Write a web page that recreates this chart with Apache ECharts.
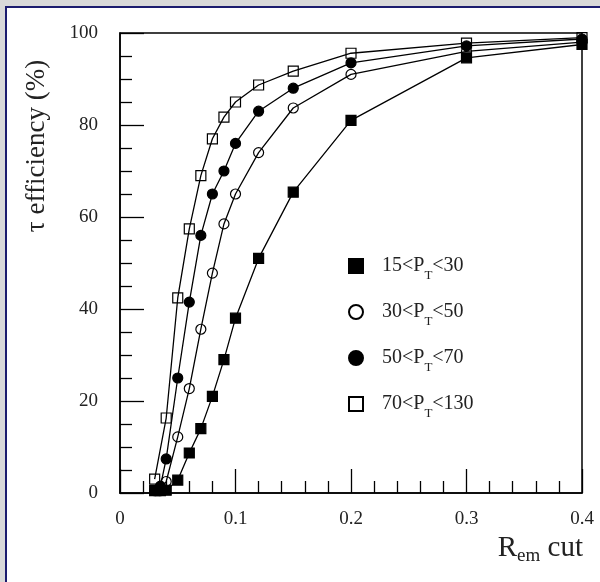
<!DOCTYPE html>
<html><head><meta charset="utf-8">
<script src="https://cdn.jsdelivr.net/npm/echarts@6/dist/echarts.min.js"></script>
<style>
html,body{margin:0;padding:0;width:600px;height:582px;overflow:hidden;background:#d9d9d9;}
#panel{position:absolute;left:5px;top:6px;right:0;bottom:0;background:#fff;border-left:2px solid #1c1c6e;border-top:2px solid #1c1c6e;}
#chart{position:absolute;left:0;top:0;width:600px;height:582px;}
</style></head><body><div id="panel"></div><div id="chart"></div>
<script>
// Data
const seriesNames = ['15<PT<30', '30<PT<50', '50<PT<70', '70<PT<130'];
const xA = [0.03, 0.035, 0.04, 0.05, 0.06, 0.07, 0.08, 0.09, 0.1, 0.12, 0.15, 0.2, 0.3, 0.4];
const yA = [0.5, 0.5, 0.6, 2.8, 8.7, 14, 21, 29, 38, 51, 65.4, 81, 94.6, 97.5];
const xB = [0.035, 0.04, 0.05, 0.06, 0.07, 0.08, 0.09, 0.1, 0.12, 0.15, 0.2, 0.3, 0.4];
const yB = [0.5, 2.5, 12.2, 22.7, 35.6, 47.8, 58.5, 65, 74, 83.7, 91, 96, 98];
const xC = [0.03, 0.035, 0.04, 0.05, 0.06, 0.07, 0.08, 0.09, 0.1, 0.12, 0.15, 0.2, 0.3, 0.4];
const yC = [0.5, 1.5, 7.4, 25, 41.5, 56, 65, 70, 76, 83, 88, 93.5, 97.2, 98.7];
const xD = [0.03, 0.04, 0.05, 0.06, 0.07, 0.08, 0.09, 0.1, 0.12, 0.15, 0.2, 0.3, 0.4];
const yD = [3, 16.3, 42.4, 57.4, 69, 77, 81.7, 85, 88.7, 91.7, 95.6, 97.8, 99];
const xTicks = [0, 0.1, 0.2, 0.3, 0.4];
const yTicks = [0, 20, 40, 60, 80, 100];

const FONT = 'Liberation Serif';
function pairs(xs, ys) { return xs.map((x, i) => [x, ys[i]]); }
const symbols = ['rect', 'circle', 'circle', 'rect'];
const filled = [true, false, true, false];
const xs = [xA, xB, xC, xD], ys = [yA, yB, yC, yD];

const series = seriesNames.map((name, i) => ({
  name: name,
  type: 'line',
  data: pairs(xs[i], ys[i]),
  symbol: symbols[i],
  symbolSize: 10,
  showAllSymbol: true,
  lineStyle: { color: '#000', width: 1.3 },
  itemStyle: { color: filled[i] ? '#000' : 'rgba(255,255,255,0)', borderColor: '#000', borderWidth: 1.2 },
  emphasis: { disabled: true },
  z: 2
}));

const chart = echarts.init(document.getElementById('chart'), null, { renderer: 'canvas' });
chart.setOption({
  backgroundColor: 'transparent',
  animation: false,
  grid: { left: 120, top: 33, right: 18, bottom: 89, show: true, borderColor: '#000', borderWidth: 1.5, backgroundColor: 'transparent' },
  xAxis: {
    type: 'value', min: xTicks[0], max: xTicks[xTicks.length - 1], interval: 0.1,
    axisLine: { show: true, lineStyle: { color: '#000', width: 1.5 } },
    axisTick: { show: true, inside: true, length: 24, lineStyle: { color: '#000', width: 1.3 } },
    minorTick: { show: true, splitNumber: 5, length: 12, lineStyle: { color: '#000', width: 1.3 } },
    splitLine: { show: false },
    axisLabel: { color: '#222', fontFamily: FONT, fontSize: 19, margin: 17,
      formatter: v => String(Math.round(v * 10) / 10) }
  },
  yAxis: {
    type: 'value', min: yTicks[0], max: yTicks[yTicks.length - 1], interval: 20,
    axisLine: { show: true, lineStyle: { color: '#000', width: 1.5 } },
    axisTick: { show: true, inside: true, length: 24, lineStyle: { color: '#000', width: 1.3 } },
    minorTick: { show: true, splitNumber: 4, length: 12, lineStyle: { color: '#000', width: 1.3 } },
    splitLine: { show: false },
    axisLabel: { color: '#222', fontFamily: FONT, fontSize: 19, margin: 22 }
  },
  legend: {
    orient: 'vertical', left: 343, top: 251,
    itemWidth: 14, itemHeight: 14, itemGap: 20,
    selectedMode: false,
    data: seriesNames.map((n, i) => ({ name: n, icon: symbols[i] })),
    formatter: n => '{n|' + n.replace('PT', 'P}{s|T}{n|') + '}',
    textStyle: {
      color: '#000', fontFamily: FONT, fontSize: 20, padding: [0, 0, 0, 14],
      rich: {
        n: { fontFamily: FONT, fontSize: 20, lineHeight: 32, color: '#222' },
        s: { fontFamily: FONT, fontSize: 13, lineHeight: 16, verticalAlign: 'bottom', color: '#222' }
      }
    }
  },
  graphic: [
    { type: 'text', x: 37, y: 146, rotation: Math.PI / 2, z: 10,
      style: { text: 'τ efficiency (%)', fontFamily: FONT, fontSize: 27, fill: '#222', align: 'center', verticalAlign: 'middle' } },
    { type: 'text', x: 583, y: 548, z: 10,
      style: { text: '{r|R}{s|em}{r| cut}', align: 'right', verticalAlign: 'middle',
        rich: {
          r: { fontFamily: FONT, fontSize: 29, lineHeight: 36, fill: '#222' },
          s: { fontFamily: FONT, fontSize: 19, lineHeight: 18, verticalAlign: 'bottom', fill: '#222' }
        } } }
  ],
  series: series
});
</script></body></html>
